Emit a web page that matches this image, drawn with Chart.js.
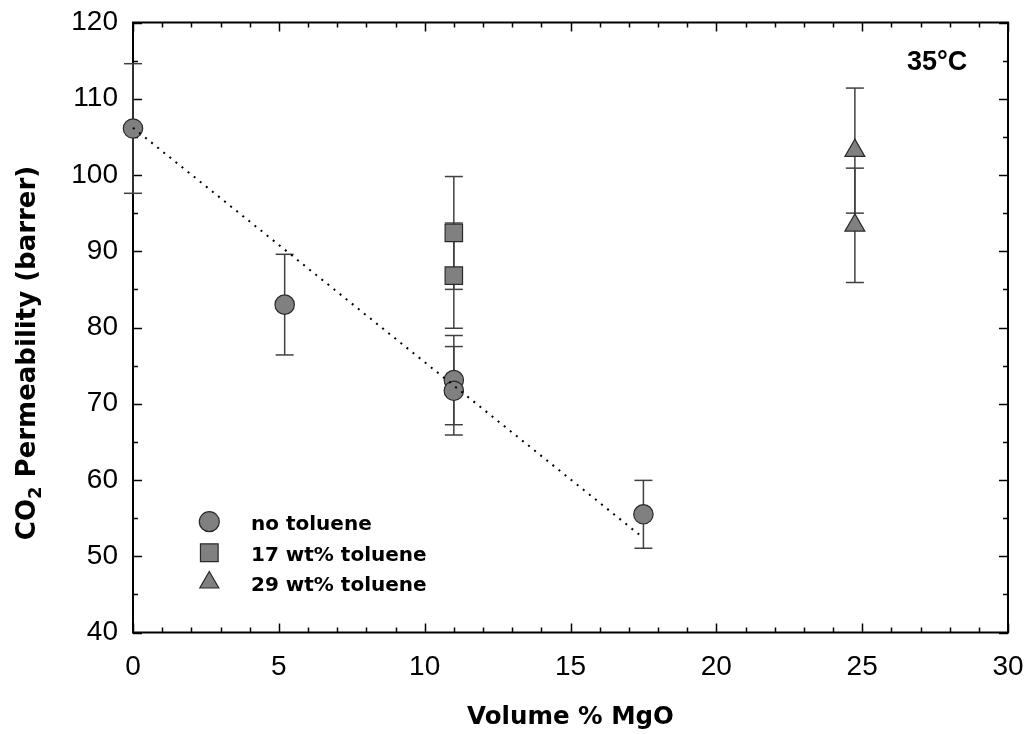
<!DOCTYPE html>
<html>
<head>
<meta charset="utf-8">
<script src="https://cdn.jsdelivr.net/npm/chart.js@4.4.1/dist/chart.umd.min.js"></script>
<style>
html,body{margin:0;padding:0;background:#fff;}
#wrap{width:1032px;height:734px;position:relative;}
</style>
</head>
<body>
<div id="wrap"><canvas id="c" width="1032" height="734"></canvas></div>
<script>
// ---- data ----
const seriesLabels = ['no toluene', '17 wt% toluene', '29 wt% toluene'];
const xNoToluene   = [0, 5.2, 11, 11, 17.5];
const yNoToluene   = [106.1, 83.0, 73.1, 71.7, 55.5];
const errNoToluene = [8.5, 6.6, 5.85, 5.8, 4.45];
const x17   = [11, 11];
const y17   = [92.4, 86.8];
const err17 = [7.4, 6.9];
const x29   = [24.75, 24.75];
const y29   = [103.2, 93.4];
const err29 = [8.2, 7.5];
const fitX = [0, 17.5];
const fitY = [106.2, 52.4];
const xTicks = [0, 5, 10, 15, 20, 25, 30];
const yTicks = [40, 50, 60, 70, 80, 90, 100, 110, 120];
const xMinorStep = 1;
const yMinorStep = 5;
const xTitle = 'Volume % MgO';
const yTitleParts = ['CO', '2', ' Permeability (barrer)'];
const tempLabel = '35°C';

const pts = (xs, ys) => xs.map((v, i) => ({x: v, y: ys[i]}));

const markerFill = '#808080';
const markerEdge = '#2a2a2a';

const datasets = [
  {
    label: 'fit', type: 'line', data: pts(fitX, fitY),
    borderColor: '#000', borderWidth: 2, borderDash: [2, 5.8],
    pointRadius: 0, fill: false, clip: false, showLine: true
  },
  {
    label: seriesLabels[0], data: pts(xNoToluene, yNoToluene), errors: errNoToluene,
    pointStyle: 'circle', pointRadius: 9.7, backgroundColor: markerFill,
    borderColor: markerEdge, borderWidth: 1.2, clip: false
  },
  {
    label: seriesLabels[1], data: pts(x17, y17), errors: err17,
    pointStyle: 'rect', pointRadius: 12.3, backgroundColor: markerFill,
    borderColor: markerEdge, borderWidth: 1.2, clip: false
  },
  {
    label: seriesLabels[2], data: pts(x29, y29), errors: err29,
    pointStyle: 'triangle', pointRadius: 11.5, backgroundColor: markerFill,
    borderColor: markerEdge, borderWidth: 1.2, clip: false
  }
];

function seg(ctx, x1, y1, x2, y2) {
  ctx.beginPath(); ctx.moveTo(x1, y1); ctx.lineTo(x2, y2); ctx.stroke();
}

const framePlugin = {
  id: 'frameAndErrors',
  beforeDatasetsDraw(chart) {
    const {ctx, chartArea: a, scales: {x, y}} = chart;
    ctx.save();
    // frame
    ctx.strokeStyle = '#000';
    ctx.lineWidth = 2;
    ctx.strokeRect(a.left, a.top, a.right - a.left, a.bottom - a.top);
    // inward ticks on all four sides
    ctx.lineWidth = 1.5;
    for (let v = x.min; v <= x.max + 1e-9; v += xMinorStep) {
      const major = xTicks.includes(Math.round(v * 1000) / 1000);
      const len = major ? 9 : 5;
      const px = Math.round(x.getPixelForValue(v)) + 0.5;
      seg(ctx, px, a.bottom, px, a.bottom - len);
      seg(ctx, px, a.top, px, a.top + len);
    }
    for (let v = y.min; v <= y.max + 1e-9; v += yMinorStep) {
      const major = yTicks.includes(Math.round(v * 1000) / 1000);
      const len = major ? 9 : 5;
      const py = Math.round(y.getPixelForValue(v)) + 0.5;
      seg(ctx, a.left, py, a.left + len, py);
      seg(ctx, a.right, py, a.right - len, py);
    }
    // error bars
    ctx.strokeStyle = '#404040';
    ctx.lineWidth = 1.5;
    const cap = 9;
    chart.data.datasets.forEach(ds => {
      if (!ds.errors) return;
      ds.data.forEach((p, j) => {
        const e = ds.errors[j];
        const px = x.getPixelForValue(p.x);
        const yt = y.getPixelForValue(p.y + e);
        const yb = y.getPixelForValue(p.y - e);
        seg(ctx, px, yt, px, yb);
        seg(ctx, px - cap, yt, px + cap, yt);
        seg(ctx, px - cap, yb, px + cap, yb);
      });
    });
    ctx.restore();
  },
  afterDraw(chart) {
    const {ctx} = chart;
    ctx.save();
    ctx.fillStyle = '#000';
    // temperature label
    ctx.font = 'bold 27px "Liberation Sans", Arial, sans-serif';
    ctx.textAlign = 'left';
    ctx.textBaseline = 'alphabetic';
    ctx.fillText(tempLabel, 907, 70);

    // y-axis title with subscript
    ctx.save();
    ctx.translate(34.5, 353);
    ctx.rotate(-Math.PI / 2);
    const big = 'bold 26px "DejaVu Sans", sans-serif';
    const small = 'bold 18px "DejaVu Sans", sans-serif';
    ctx.font = big; const w1 = ctx.measureText(yTitleParts[0]).width;
    ctx.font = small; const w2 = ctx.measureText(yTitleParts[1]).width;
    ctx.font = big; const w3 = ctx.measureText(yTitleParts[2]).width;
    let sx = -(w1 + w2 + w3) / 2;
    ctx.textAlign = 'left';
    ctx.font = big; ctx.fillText(yTitleParts[0], sx, 0); sx += w1;
    ctx.font = small; ctx.fillText(yTitleParts[1], sx, 6); sx += w2;
    ctx.font = big; ctx.fillText(yTitleParts[2], sx, 0);
    ctx.restore();

    // legend
    const rows = [521.7, 552.7, 582.5];
    const baselines = [529.5, 560.5, 590.5];
    const legendStyles = [
      {pointStyle: 'circle', radius: 10},
      {pointStyle: 'rect', radius: 12.5},
      {pointStyle: 'triangle', radius: 11}
    ];
    ctx.font = 'bold 20px "DejaVu Sans", sans-serif';
    for (let i = 0; i < 3; i++) {
      ctx.fillStyle = markerFill;
      ctx.strokeStyle = markerEdge;
      ctx.lineWidth = 1.2;
      Chart.helpers.drawPoint(ctx, {pointStyle: legendStyles[i].pointStyle, radius: legendStyles[i].radius, borderWidth: 1.2, rotation: 0}, 209.3, rows[i]);
      ctx.fillStyle = '#000';
      ctx.fillText(seriesLabels[i], 251, baselines[i]);
    }
    ctx.restore();
  }
};

function zeroPad(s) { s.paddingTop = 0; s.paddingBottom = 0; s.paddingLeft = 0; s.paddingRight = 0; }

new Chart(document.getElementById('c'), {
  type: 'scatter',
  data: {datasets},
  options: {
    responsive: false,
    animation: false,
    events: [],
    devicePixelRatio: 1,
    layout: {padding: {top: 22.5, right: 24, left: 0, bottom: 0}},
    plugins: {legend: {display: false}, tooltip: {enabled: false}},
    scales: {
      x: {
        type: 'linear', min: 0, max: 30,
        afterBuildTicks: s => { s.ticks = xTicks.map(v => ({value: v})); },
        afterFit: s => { s.height = 101.5; zeroPad(s); },
        grid: {display: false, drawTicks: false},
        border: {display: false},
        ticks: {color: '#000', padding: 18, font: {family: '"Liberation Sans", Arial, sans-serif', size: 28}},
        title: {display: true, text: xTitle, color: '#000', padding: {top: 0, bottom: 2},
                font: {family: '"DejaVu Sans", sans-serif', size: 24.5, weight: 'bold'}}
      },
      y: {
        type: 'linear', min: 40, max: 120,
        afterBuildTicks: s => { s.ticks = yTicks.map(v => ({value: v})); },
        afterFit: s => { s.width = 133; zeroPad(s); },
        grid: {display: false, drawTicks: false},
        border: {display: false},
        ticks: {color: '#000', padding: 15, font: {family: '"Liberation Sans", Arial, sans-serif', size: 28}}
      }
    }
  },
  plugins: [framePlugin]
});
</script>
</body>
</html>
